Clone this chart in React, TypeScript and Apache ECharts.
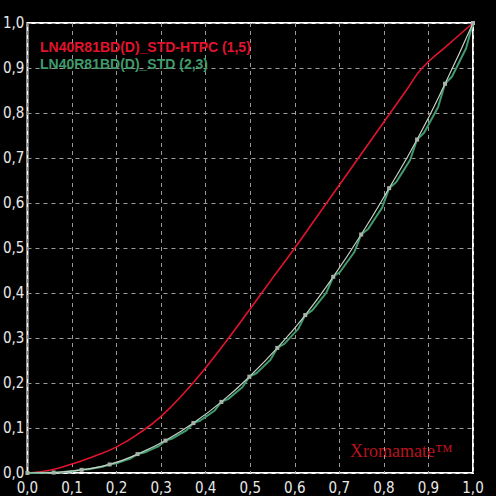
import React, { useEffect, useRef } from "react";
import * as echarts from "echarts";

const xTicks = [0, 0.1, 0.2, 0.3, 0.4, 0.5, 0.6, 0.7, 0.8, 0.9, 1.0];

const redName = "LN40R81BD(D)_STD-HTPC (1,5)";
const greenName = "LN40R81BD(D)_STD (2,3)";

// red target curve (input, output)
const redX = [0, 0.05, 0.1, 0.15, 0.2, 0.25, 0.3, 0.35, 0.4, 0.45, 0.5, 0.55, 0.6, 0.65, 0.7, 0.75, 0.8, 0.85, 0.886, 0.94, 1.0];
const redY = [0, 0.006, 0.02, 0.037, 0.058, 0.088, 0.126, 0.176, 0.234, 0.298, 0.365, 0.433, 0.5, 0.57, 0.64, 0.71, 0.78, 0.85, 0.9, 0.948, 1.0];

// measured curve with markers (input code 0..255)
const whiteCodes = [0, 15, 31, 47, 63, 79, 95, 111, 127, 143, 159, 175, 191, 207, 223, 239, 255];
const whiteY = [0, 0.001, 0.007, 0.019, 0.042, 0.072, 0.111, 0.158, 0.214, 0.278, 0.351, 0.436, 0.53, 0.633, 0.741, 0.865, 1.0];

// jagged green curve (input code 0..255)
const greenCodes = [
  0, 3, 7, 11, 15, 19, 23, 27, 31, 35, 39, 43, 47, 51, 55, 59, 63, 67, 71, 75, 79, 83, 87, 91, 95,
  99, 103, 107, 111, 115, 119, 123, 127, 131, 135, 139, 143, 147, 151, 155, 159, 163, 167, 171, 175,
  179, 183, 187, 191, 195, 199, 203, 207, 211, 215, 219, 223, 227, 231, 235, 239, 243, 247, 251, 255,
];
const greenY = [
  0, 0.0001, 0.0004, 0.0006, 0.001, 0.0017, 0.0031, 0.0045, 0.007, 0.0084, 0.0112, 0.014, 0.019,
  0.0218, 0.027, 0.0323, 0.042, 0.0456, 0.0525, 0.0594, 0.072, 0.0767, 0.0857, 0.0946, 0.111,
  0.1166, 0.1275, 0.1383, 0.158, 0.1647, 0.1776, 0.1905, 0.214, 0.2217, 0.2364, 0.2511, 0.278,
  0.2868, 0.3036, 0.3203, 0.351, 0.3612, 0.3808, 0.4003, 0.436, 0.4473, 0.4689, 0.4905, 0.53,
  0.5424, 0.5661, 0.5897, 0.633, 0.646, 0.6708, 0.6956, 0.741, 0.7559, 0.7844, 0.8129, 0.865,
  0.8812, 0.9123, 0.9433, 1.0,
];

const fmt = (v: number) => v.toFixed(1).replace(".", ",");

export default function App() {
  const ref = useRef<HTMLDivElement>(null);
  useEffect(() => {
    if (!ref.current) return;
    const chart = echarts.init(ref.current, undefined, { renderer: "svg" });
    const labelFont = "'Liberation Sans Narrow', 'DejaVu Sans Condensed', sans-serif";
    const axisCommon = {
      type: "value" as const,
      min: 0,
      max: 1,
      interval: 0.1,
      axisLine: { show: false },
      axisTick: { show: false },
      splitLine: {
        show: true,
        lineStyle: { color: "#9a9a9a", type: [4, 4] as any, width: 1 },
      },
    };
    chart.setOption({
      animation: false,
      backgroundColor: "#000000",
      grid: {
        left: 23,
        top: 23,
        width: 450,
        height: 450,
        show: true,
        borderColor: "#ffffff",
        borderWidth: 2,
        backgroundColor: "transparent",
      },
      legend: {
        show: true,
        orient: "vertical",
        left: 30,
        top: 35,
        icon: "none",
        itemWidth: 0,
        itemHeight: 0,
        itemGap: 3,
        textStyle: {
          fontFamily: "'Liberation Sans', Arial, sans-serif",
          fontSize: 14,
          fontWeight: "bold",
        },
        data: [
          { name: redName, textStyle: { color: "#e0142c" } },
          { name: greenName, textStyle: { color: "#3f9a6c" } },
        ],
      },
      xAxis: {
        ...axisCommon,
        axisLabel: {
          color: "#e8e8e8",
          fontFamily: labelFont,
          fontSize: 15,
          margin: 7,
          formatter: fmt,
          customValues: xTicks,
        },
      },
      yAxis: {
        ...axisCommon,
        axisLabel: {
          color: "#e8e8e8",
          fontFamily: labelFont,
          fontSize: 15,
          margin: 3,
          formatter: fmt,
        },
      },
      graphic: [
        {
          type: "text",
          left: 350,
          top: 442,
          style: {
            text: "Xromamate™",
            fill: "#b8141e",
            font: "18px 'Liberation Serif', 'Times New Roman', serif",
          },
        },
      ],
      series: [
        {
          name: redName,
          type: "line",
          smooth: true,
          showSymbol: false,
          symbol: "none",
          lineStyle: { color: "#e0142c", width: 1.6 },
          itemStyle: { color: "#e0142c" },
          data: redX.map((x, i) => [x, redY[i]]),
          z: 3,
        },
        {
          name: greenName,
          type: "line",
          showSymbol: false,
          symbol: "none",
          lineStyle: { color: "#3f9a6c", width: 2 },
          itemStyle: { color: "#3f9a6c" },
          data: greenCodes.map((c, i) => [c / 255, greenY[i]]),
          z: 4,
        },
        {
          name: "measured",
          type: "line",
          smooth: true,
          symbol: "rect",
          symbolSize: 4,
          showSymbol: true,
          lineStyle: { color: "#c8d0c8", width: 1.2 },
          itemStyle: { color: "#a8b4a8" },
          data: whiteCodes.map((c, i) => [c / 255, whiteY[i]]),
          z: 5,
        },
      ],
    });
    return () => chart.dispose();
  }, []);
  return (
    <div
      ref={ref}
      style={{ position: "fixed", left: 0, top: 0, width: 496, height: 496, background: "#000" }}
    />
  );
}
